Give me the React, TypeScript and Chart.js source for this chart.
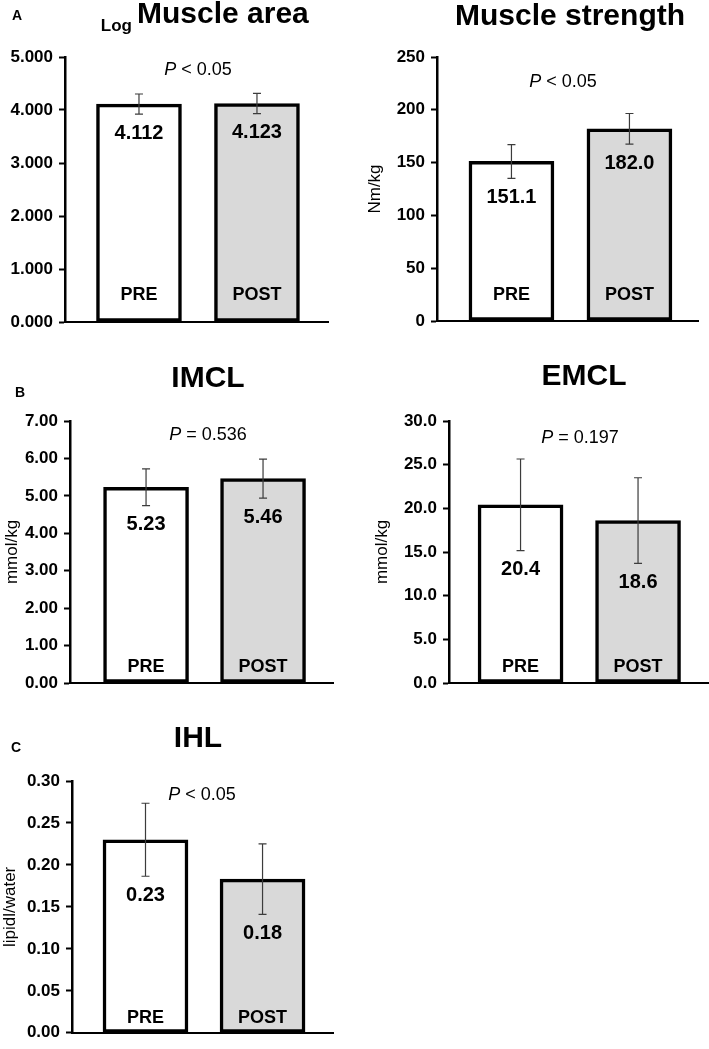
import React, { useEffect, useRef } from 'react';
import { Chart, registerables } from 'chart.js';

Chart.register(...registerables);

const FAMILY = '"Liberation Sans", Arial, Helvetica, sans-serif';

// ---------- data ----------
const categories = ['PRE', 'POST'];

const muscleAreaMean = [4.112, 4.123];
const muscleAreaErr = [0.19, 0.19];
const muscleAreaLabels = ['4.112', '4.123'];

const strengthMean = [151.1, 182.0];
const strengthErr = [16.0, 14.5];
const strengthLabels = ['151.1', '182.0'];

const imclMean = [5.23, 5.46];
const imclErr = [0.49, 0.52];
const imclLabels = ['5.23', '5.46'];

const emclMean = [20.4, 18.6];
const emclErr = [5.25, 4.9];
const emclLabels = ['20.4', '18.6'];

const ihlMean = [0.23, 0.183];
const ihlErr = [0.0435, 0.042];
const ihlLabels = ['0.23', '0.18'];

const barColors = ['#ffffff', '#d9d9d9'];

// ---------- panel layout ----------
type PanelCfg = {
  left: number; top: number; width: number; height: number;
  yw: number; padRight: number; padTop: number; padBottom: number;
  xMin: number; xMax: number;
  yMax: number; step: number; decimals: number;
  yTitle: string; yTitlePad: number;
  title: string; titleX: number; titleY: number; logPrefix?: boolean;
  letter?: string; letterX?: number; letterY?: number;
  pOp: string; pX: number; pY: number;
  catOffset: number;
  means: number[]; errs: number[]; labels: string[];
};

const panels: PanelCfg[] = [
  {
    left: 0, top: 0, width: 350, height: 340,
    yw: 65, padRight: 22, padTop: 57, padBottom: 18,
    xMin: -0.627, xMax: 1.602,
    yMax: 5, step: 1, decimals: 3,
    yTitle: '', yTitlePad: 0,
    title: 'Muscle area', titleX: 137, titleY: 23, logPrefix: true,
    letter: 'A', letterX: 12, letterY: 20,
    pOp: ' < 0.05', pX: 198, pY: 70,
    catOffset: 27,
    means: muscleAreaMean, errs: muscleAreaErr, labels: muscleAreaLabels,
  },
  {
    left: 350, top: 0, width: 359, height: 340,
    yw: 87, padRight: 11, padTop: 57, padBottom: 19,
    xMin: -0.631, xMax: 1.581,
    yMax: 250, step: 50, decimals: 0,
    yTitle: 'Nm/kg', yTitlePad: 15,
    title: 'Muscle strength', titleX: 220, titleY: 25,
    pOp: ' < 0.05', pX: 213, pY: 82,
    catOffset: 26,
    means: strengthMean, errs: strengthErr, labels: strengthLabels,
  },
  {
    left: 0, top: 340, width: 350, height: 360,
    yw: 70, padRight: 17, padTop: 81, padBottom: 17,
    xMin: -0.65, xMax: 1.598,
    yMax: 7, step: 1, decimals: 2,
    yTitle: 'mmol/kg', yTitlePad: 2,
    title: 'IMCL', titleX: 208, titleY: 47,
    letter: 'B', letterX: 15, letterY: 57,
    pOp: ' = 0.536', pX: 208, pY: 95,
    catOffset: 16,
    means: imclMean, errs: imclErr, labels: imclLabels,
  },
  {
    left: 350, top: 340, width: 359, height: 360,
    yw: 99, padRight: 0, padTop: 81, padBottom: 17,
    xMin: -0.609, xMax: 1.604,
    yMax: 30, step: 5, decimals: 1,
    yTitle: 'mmol/kg', yTitlePad: 22,
    title: 'EMCL', titleX: 234, titleY: 45,
    pOp: ' = 0.197', pX: 230, pY: 98,
    catOffset: 16,
    means: emclMean, errs: emclErr, labels: emclLabels,
  },
  {
    left: 0, top: 700, width: 350, height: 349,
    yw: 72, padRight: 17, padTop: 81, padBottom: 6,
    xMin: -0.628, xMax: 1.602,
    yMax: 0.3, step: 0.05, decimals: 2,
    yTitle: 'lipidl/water', yTitlePad: 0,
    title: 'IHL', titleX: 198, titleY: 47,
    letter: 'C', letterX: 11, letterY: 52,
    pOp: ' < 0.05', pX: 202, pY: 95,
    catOffset: 15,
    means: ihlMean, errs: ihlErr, labels: ihlLabels,
  },
];

function makeOverlay(cfg: PanelCfg) {
  return {
    id: 'overlay',
    afterDraw(chart: any) {
      const ctx: CanvasRenderingContext2D = chart.ctx;
      const xs = chart.scales.x;
      const ys = chart.scales.y;
      ctx.save();
      ctx.fillStyle = '#000';

      // title
      ctx.textBaseline = 'alphabetic';
      if (cfg.logPrefix) {
        ctx.textAlign = 'left';
        ctx.font = `bold 17px ${FAMILY}`;
        const w = ctx.measureText('Log').width;
        ctx.fillText('Log', cfg.titleX - w - 5, cfg.titleY + 8);
        ctx.font = `bold 30px ${FAMILY}`;
        ctx.fillText(cfg.title, cfg.titleX, cfg.titleY);
      } else {
        ctx.textAlign = 'center';
        ctx.font = `bold 30px ${FAMILY}`;
        ctx.fillText(cfg.title, cfg.titleX, cfg.titleY);
      }

      // panel letter
      if (cfg.letter) {
        ctx.textAlign = 'left';
        ctx.font = `bold 14px ${FAMILY}`;
        ctx.fillText(cfg.letter, cfg.letterX!, cfg.letterY!);
      }

      // P text
      ctx.textBaseline = 'middle';
      ctx.textAlign = 'left';
      ctx.font = `italic 18px ${FAMILY}`;
      const wP = ctx.measureText('P').width;
      ctx.font = `18px ${FAMILY}`;
      const wR = ctx.measureText(cfg.pOp).width;
      const start = cfg.pX - (wP + wR) / 2;
      ctx.font = `italic 18px ${FAMILY}`;
      ctx.fillText('P', start, cfg.pY);
      ctx.font = `18px ${FAMILY}`;
      ctx.fillText(cfg.pOp, start + wP, cfg.pY);

      // error bars, value labels, category labels
      const y0 = ys.getPixelForValue(0);
      cfg.means.forEach((m, i) => {
        const x = xs.getPixelForValue(i);
        const yHi = ys.getPixelForValue(m + cfg.errs[i]);
        const yLo = ys.getPixelForValue(m - cfg.errs[i]);
        ctx.strokeStyle = '#3c3c3c';
        ctx.lineWidth = 1.2;
        ctx.beginPath();
        ctx.moveTo(x, yHi);
        ctx.lineTo(x, yLo);
        ctx.moveTo(x - 4, yHi);
        ctx.lineTo(x + 4, yHi);
        ctx.moveTo(x - 4, yLo);
        ctx.lineTo(x + 4, yLo);
        ctx.stroke();

        ctx.fillStyle = '#000';
        ctx.textAlign = 'center';
        ctx.textBaseline = 'middle';
        ctx.font = `bold 20px ${FAMILY}`;
        ctx.fillText(cfg.labels[i], x, yLo + 19);

        ctx.font = `bold 18px ${FAMILY}`;
        ctx.fillText(categories[i], x, y0 - cfg.catOffset);
      });
      ctx.restore();
    },
  };
}

function Panel({ cfg }: { cfg: PanelCfg }) {
  const ref = useRef<HTMLCanvasElement>(null);
  useEffect(() => {
    const chart = new Chart(ref.current!, {
      type: 'bar',
      data: {
        datasets: [
          {
            data: cfg.means.map((m, i) => ({ x: i, y: m })),
            backgroundColor: barColors,
            borderColor: '#000',
            borderWidth: 3.5,
            borderSkipped: false,
            barThickness: 85,
          } as any,
        ],
      },
      options: {
        responsive: false,
        animation: false,
        devicePixelRatio: 1,
        layout: { padding: { left: 0, right: cfg.padRight, top: cfg.padTop, bottom: cfg.padBottom } },
        plugins: { legend: { display: false }, tooltip: { enabled: false }, title: { display: false } },
        scales: {
          x: {
            type: 'linear',
            offset: false,
            bounds: 'data',
            min: cfg.xMin,
            max: cfg.xMax,
            ticks: { display: false },
            grid: { display: false, drawTicks: false, offset: false },
            border: { display: true, color: '#000', width: 2 },
            afterFit: (s: any) => { s.height = 0; },
          },
          y: {
            min: 0,
            max: cfg.yMax,
            ticks: {
              stepSize: cfg.step,
              callback: (v: any) => Number(v).toFixed(cfg.decimals),
              font: { family: FAMILY, size: 17, weight: 'bold' },
              color: '#000',
              padding: 6,
            },
            grid: { display: true, drawOnChartArea: false, drawTicks: true, tickLength: 6, tickColor: '#000', tickWidth: 2 },
            border: { display: true, color: '#000', width: 2.5 },
            title: {
              display: !!cfg.yTitle,
              text: cfg.yTitle,
              font: { family: FAMILY, size: 17 },
              color: '#000',
              padding: { top: cfg.yTitlePad, bottom: 0 },
            },
            afterFit: (s: any) => { s.width = cfg.yw; },
          },
        },
      } as any,
      plugins: [makeOverlay(cfg)],
    });
    return () => chart.destroy();
  }, []);
  return (
    <canvas
      ref={ref}
      width={cfg.width}
      height={cfg.height}
      style={{ position: 'absolute', left: cfg.left, top: cfg.top, width: cfg.width, height: cfg.height }}
    />
  );
}

export default function App() {
  return (
    <div style={{ position: 'absolute', left: 0, top: 0, width: 709, height: 1049, background: '#fff', overflow: 'hidden' }}>
      {panels.map((p, i) => (
        <Panel key={i} cfg={p} />
      ))}
    </div>
  );
}
